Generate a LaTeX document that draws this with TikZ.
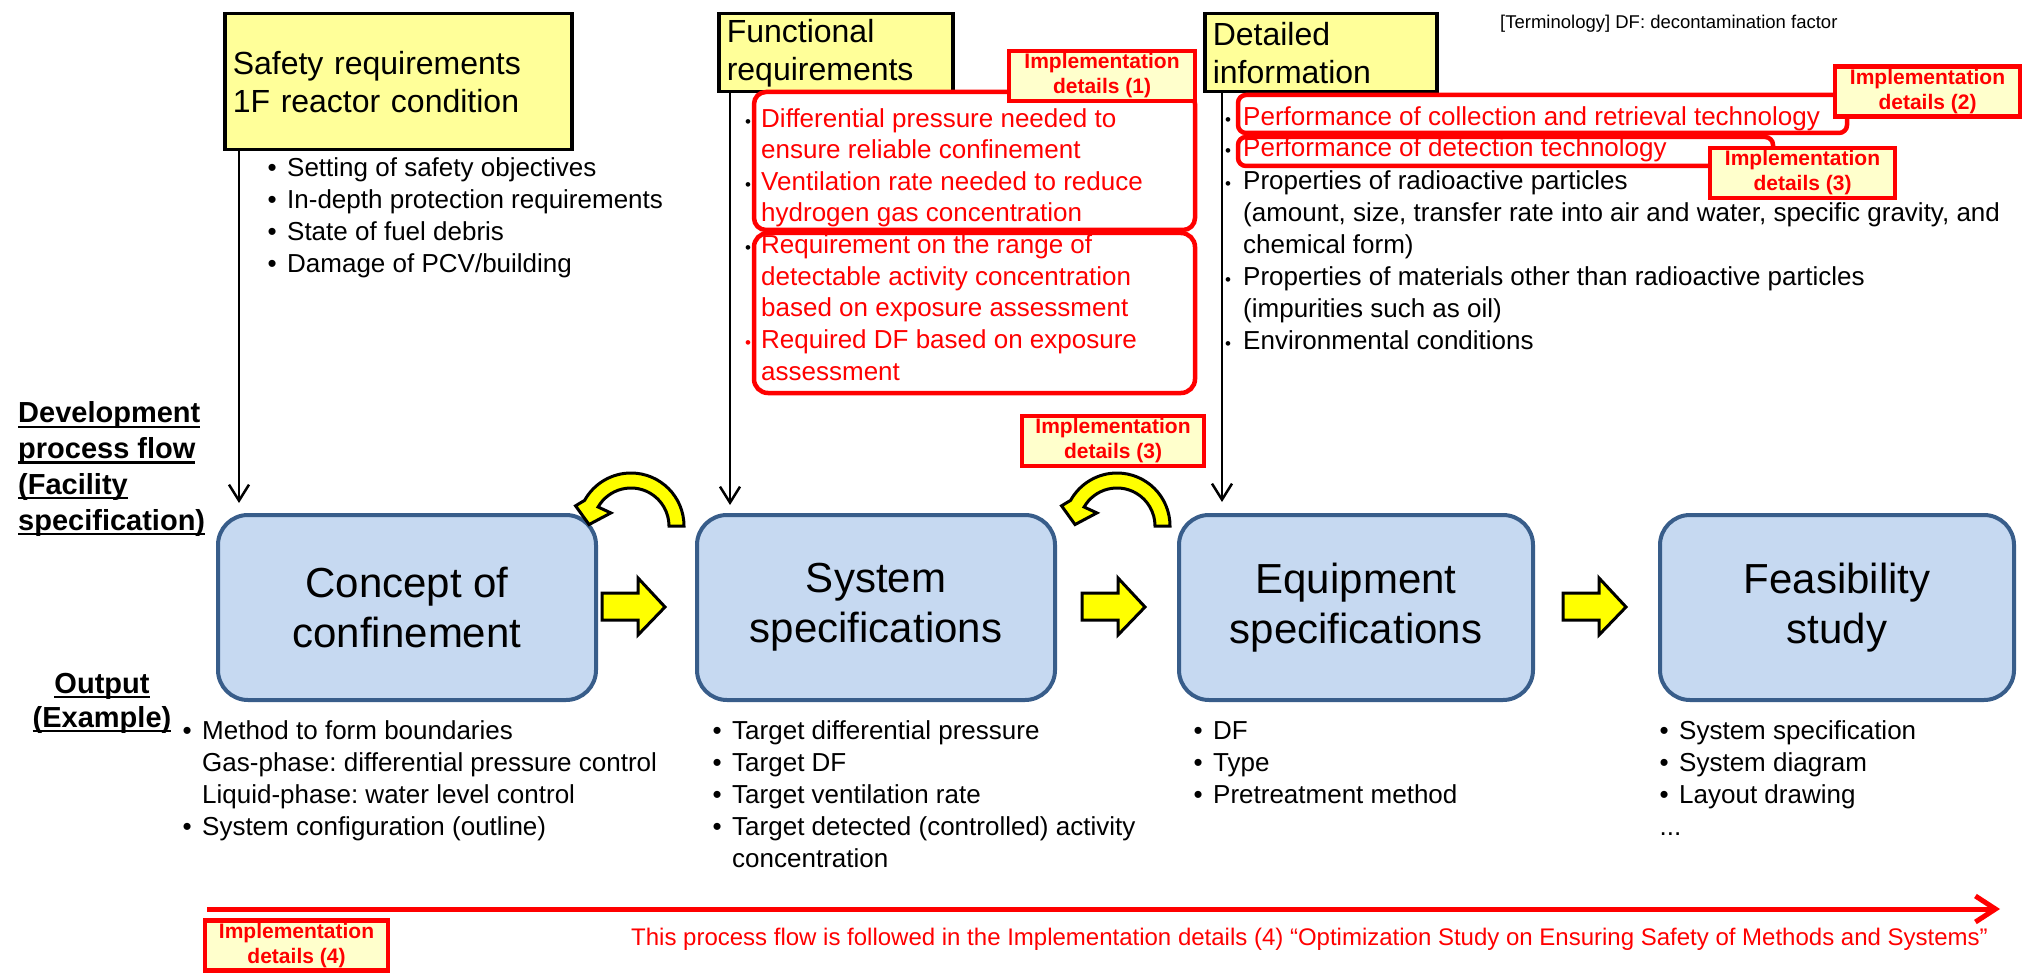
\documentclass[tikz,border=0pt]{standalone}
\usepackage{fontspec}
\setmainfont{Liberation Sans}
\usetikzlibrary{arrows.meta}
\frenchspacing

\definecolor{boxblue}{HTML}{C6D9F1}
\definecolor{boxedge}{HTML}{385D8A}
\definecolor{reqyellow}{HTML}{FFFF99}
\definecolor{implfill}{HTML}{FFFFCC}
\definecolor{flowyellow}{HTML}{FFFF00}

% list bullets and hanging indents
\newcommand{\bul}{\makebox[19.5pt][l]{•}}
\newcommand{\bulgap}{\hspace*{19.5pt}}
\newcommand{\smalldot}{{\fontsize{17pt}{17pt}\selectfont •}}
\newcommand{\sdot}{\makebox[17pt][l]{\hspace*{1pt}\textcolor{black}{\smalldot}}}
\newcommand{\sdotred}{\makebox[17pt][l]{\hspace*{1pt}\smalldot}}
\newcommand{\sdotgap}{\hspace*{17pt}}
\newcommand{\dbul}{\makebox[19pt][l]{\hspace*{1pt}\textcolor{black}{\smalldot}}}
\newcommand{\dbulgap}{\hspace*{19pt}}
% underline sitting just below the baseline
\newsavebox{\udlbox}
\newcommand{\udl}[1]{\sbox{\udlbox}{#1}\rlap{\rule[-5pt]{\wd\udlbox}{2.2pt}}\usebox{\udlbox}}

\begin{document}
\begin{tikzpicture}[x=1pt, y=-1pt,
  reqbox/.style={draw=black, line width=3.5pt, fill=reqyellow, align=left,
    inner sep=0pt, inner xsep=8pt, anchor=north west,
    font=\fontsize{32pt}{38pt}\selectfont},
  mainbox/.style={draw=boxedge, line width=4pt, fill=boxblue, rounded corners=30pt,
    align=center, inner sep=0pt, anchor=north west, minimum height=185pt,
    font=\fontsize{42pt}{50pt}\selectfont},
  implbox/.style={draw=red, line width=4.5pt, fill=implfill, text=red, align=center,
    inner sep=0pt, minimum width=183pt, minimum height=50pt,
    font=\bfseries\fontsize{21pt}{25pt}\selectfont},
  redframe/.style={draw=red, line width=4.5pt, rounded corners=12pt},
  % multi-line texts are placed by the baseline of their last line
  bodytext/.style={anchor=base west, align=left, inner sep=0pt,
    font=\fontsize{26pt}{32pt}\selectfont},
  sidelabel/.style={inner sep=0pt, font=\bfseries\fontsize{29pt}{35.7pt}\selectfont},
  flowdown/.style={draw=black, line width=2.5pt, -{Straight Barb[length=16pt,width=20pt]}},
  flowred/.style={draw=red, line width=5pt, -{Straight Barb[length=20pt,width=26pt]}},
  yshape/.style={fill=flowyellow, draw=black, line width=3pt, line join=miter},
  yarrow/.pic={\draw[yshape] (0,-14) -- (36,-14) -- (36,-29) -- (63,0) -- (36,28)
    -- (36,13) -- (0,13) -- cycle;},
  backarrow/.pic={\draw[yshape] (0:53) arc[start angle=0, end angle=-151, radius=53]
    -- (-160:59) -- (-178:42) -- (-147:24) -- (-150:38)
    arc[start angle=-150, end angle=0, radius=38] -- cycle;}
]
\useasboundingbox (0,0) rectangle (2028,973);
\fill[white] (0,0) rectangle (2028,973);

% ---- inputs at the top ----
\node[reqbox, minimum width=347pt, minimum height=136pt, text width=331pt] (safety)
  at (223,12) {Safety requirements\\1F reactor condition};
\node[reqbox, minimum width=234pt, minimum height=78pt, text width=218pt] (functional)
  at (717,12) {Functional\\requirements};
\node[reqbox, minimum width=232pt, minimum height=78pt, text width=216pt] (detailed)
  at (1203,12) {Detailed\\information};

\node[anchor=base west, inner sep=0pt, font=\fontsize{18.5pt}{22pt}\selectfont] (terms)
  at (1500,29) {[Terminology] DF: decontamination factor};

\node[bodytext] (safetylist) at (267.5,273) {%
\bul Setting of safety objectives\\
\bul In-depth protection requirements\\
\bul State of fuel debris\\
\bul Damage of PCV/building};

% ---- framed items and their work packages ----
\draw[redframe] (754,92) rectangle (1195,230);
\draw[redframe, rounded corners=14pt] (754,233) rectangle (1195,393);
\draw[redframe, rounded corners=8pt] (1238,95) rectangle (1847,133);
\draw[redframe, rounded corners=8pt] (1238,137) rectangle (1773,166);

\node[bodytext, text=red, font=\fontsize{26pt}{31.6pt}\selectfont] (funclist) at (744,380) {%
\sdot Differential pressure needed to\\
\sdotgap ensure reliable confinement\\
\sdot Ventilation rate needed to reduce\\
\sdotgap hydrogen gas concentration\\
\sdot Requirement on the range of\\
\sdotgap detectable activity concentration\\
\sdotgap based on exposure assessment\\
\sdotred Required DF based on exposure\\
\sdotgap assessment};

\node[bodytext] (detaillist) at (1224,349) {%
\dbul\textcolor{red}{Performance of collection and retrieval technology}\\
\dbul\textcolor{red}{Performance of detection technology}\\
\dbul Properties of radioactive particles\\
\dbulgap (amount, size, transfer rate into air and water, specific gravity, and\\
\dbulgap chemical form)\\
\dbul Properties of materials other than radioactive particles\\
\dbulgap (impurities such as oil)\\
\dbul Environmental conditions};

\node[implbox, minimum width=186pt] (impl1) at (1102,76) {Implementation\\details (1)};
\node[implbox, minimum width=185pt] (impl2) at (1927.5,91.5) {Implementation\\details (2)};
\node[implbox, minimum width=185pt] (impl3a) at (1802.5,173) {Implementation\\details (3)};
\node[implbox, minimum width=182pt] (impl3b) at (1113,441) {Implementation\\details (3)};

% ---- side labels ----
\node[sidelabel, anchor=base west, align=left] (devlabel) at (18,530)
  {\udl{Development}\\\udl{process flow}\\\udl{(Facility}\\\udl{specification)}};
\node[sidelabel, anchor=base, align=center, font=\bfseries\fontsize{29pt}{34pt}\selectfont]
  (outlabel) at (102,727) {\udl{Output}\\\udl{(Example)}};

% ---- process steps ----
\node[mainbox, minimum width=378pt] (concept) at (216,513) {Concept of\\confinement};
\node[mainbox, minimum width=358pt] (system) at (695,513) {System\\specifications};
\node[mainbox, minimum width=354pt] (equipment) at (1177,513) {Equipment\\specifications};
\node[mainbox, minimum width=354pt] (feasibility) at (1658,513) {Feasibility\\study};

\pic (step12) at (602,607) {yarrow};
\pic (step23) at (1082,607) {yarrow};
\pic (step34) at (1563,607) {yarrow};
\pic (back21) at (631,526) {backarrow};
\pic (back32) at (1117,526) {backarrow};

% inputs feeding the steps
\coordinate (d1) at ([xshift=16pt]safety.south west);
\draw[flowdown, shorten >=10pt] (d1) -- (d1 |- concept.north);
\coordinate (d2) at ([xshift=13pt]functional.south west);
\draw[flowdown, shorten >=8pt] (d2) -- (d2 |- system.north);
\coordinate (d3) at ([xshift=19pt]detailed.south west);
\draw[flowdown, shorten >=11pt] (d3) -- (d3 |- equipment.north);

% ---- outputs ----
\node[bodytext] (conceptout) at (182.5,835) {%
\bul Method to form boundaries\\
\bulgap Gas-phase: differential pressure control\\
\bulgap Liquid-phase: water level control\\
\bul System configuration (outline)};
\node[bodytext] (systemout) at (712.5,867) {%
\bul Target differential pressure\\
\bul Target DF\\
\bul Target ventilation rate\\
\bul Target detected (controlled) activity\\
\bulgap concentration};
\node[bodytext] (equipmentout) at (1193.5,803) {%
\bul DF\\
\bul Type\\
\bul Pretreatment method};
\node[bodytext] (feasibilityout) at (1659.5,835) {%
\bul System specification\\
\bul System diagram\\
\bul Layout drawing\\
...};

% ---- overall flow ----
\coordinate (flowstart) at (207,909);
\coordinate (flowend) at (2000,909);
\draw[flowred] (flowstart) -- (flowend);
\node[implbox] (impl4) at (296.5,945.5) {Implementation\\details (4)};
\node[anchor=base east, inner sep=0pt, text=red, font=\fontsize{24pt}{28pt}\selectfont]
  (flownote) at (1988,945) {This process flow is followed in the Implementation details (4) “Optimization Study on Ensuring Safety of Methods and Systems”};
\end{tikzpicture}
\end{document}
